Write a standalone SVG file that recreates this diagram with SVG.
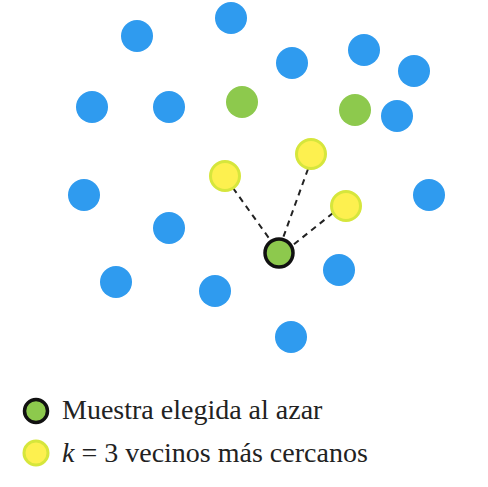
<svg xmlns="http://www.w3.org/2000/svg" width="488" height="487" viewBox="0 0 488 487">
<style>
.b{fill:#2f9bef}
.g{fill:#8dc94d}
.y{fill:#fdf04f;stroke:#d6e63c;stroke-width:3}
.c{fill:#8dc94d;stroke:#111;stroke-width:3.5}
.e{stroke:#222;stroke-width:2;stroke-dasharray:6 5;fill:none}
.t{font-family:"Liberation Serif","Times New Roman",serif;font-size:28px;fill:#222}
</style>
<rect width="488" height="487" fill="#fff"/>
<g id="edges">
<line class="e" x1="233" y1="188" x2="271" y2="241"/>
<line class="e" x1="308" y1="169" x2="283" y2="238"/>
<line class="e" x1="333" y1="213" x2="293" y2="245"/>
</g>
<g id="blue">
<circle id="b1" class="b" cx="137" cy="36" r="16"/>
<circle id="b2" class="b" cx="231" cy="18" r="16"/>
<circle id="b3" class="b" cx="292" cy="63" r="16"/>
<circle id="b4" class="b" cx="364" cy="50" r="16"/>
<circle id="b5" class="b" cx="414" cy="71" r="16"/>
<circle id="b6" class="b" cx="92" cy="107" r="16"/>
<circle id="b7" class="b" cx="169" cy="107" r="16"/>
<circle id="b8" class="b" cx="397" cy="116" r="16"/>
<circle id="b9" class="b" cx="84" cy="195" r="16"/>
<circle id="b10" class="b" cx="429" cy="195" r="16"/>
<circle id="b11" class="b" cx="169" cy="228" r="16"/>
<circle id="b12" class="b" cx="116" cy="282" r="16"/>
<circle id="b13" class="b" cx="215" cy="291" r="16"/>
<circle id="b14" class="b" cx="339" cy="270" r="16"/>
<circle id="b15" class="b" cx="291" cy="337" r="16"/>
</g>
<g id="green">
<circle id="g1" class="g" cx="242" cy="102" r="16"/>
<circle id="g2" class="g" cx="355" cy="110" r="16"/>
</g>
<g id="neighbors">
<circle id="y1" class="y" cx="225" cy="176" r="14.5"/>
<circle id="y2" class="y" cx="311" cy="154" r="14.5"/>
<circle id="y3" class="y" cx="346" cy="206" r="14.5"/>
</g>
<g id="sample"><circle class="c" cx="279" cy="253" r="14"/></g>
<g id="legend">
<circle class="c" cx="36" cy="411" r="11.5"/>
<text class="t" x="62" y="419">Muestra elegida al azar</text>
<circle class="y" cx="36" cy="453" r="12"/>
<text class="t" x="62" y="462"><tspan font-style="italic">k</tspan> = 3 vecinos más cercanos</text>
</g>
</svg>
